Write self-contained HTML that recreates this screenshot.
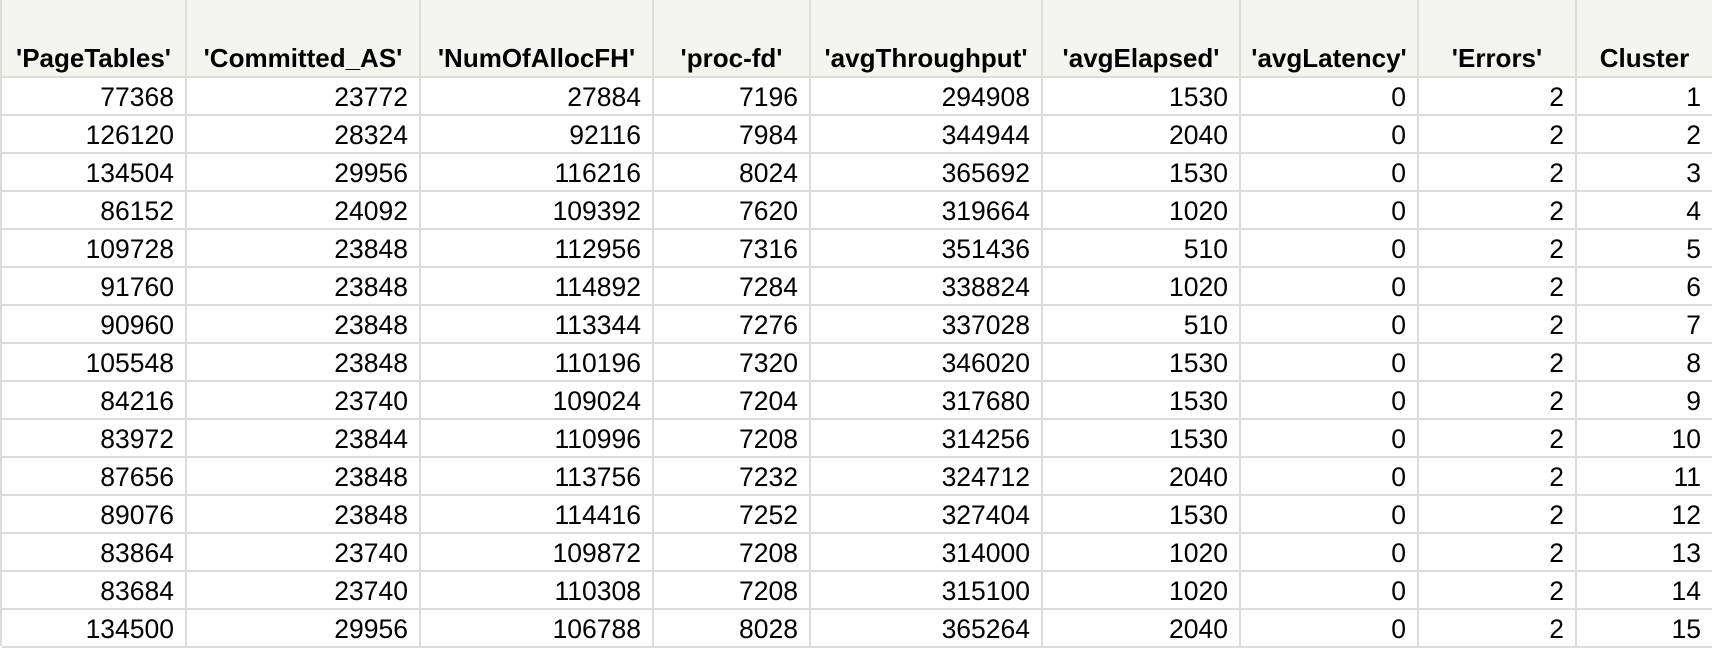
<!DOCTYPE html>
<html><head><meta charset="utf-8">
<style>
html,body{margin:0;padding:0;width:1712px;height:646px;overflow:hidden;background:#fff;font-family:"Liberation Sans",Arial,sans-serif;}
#grid{position:absolute;left:0;top:0;width:1712px;height:646px;}
.hdr{position:absolute;top:0;height:76px;background:#f5f5f0;border-right:2px solid #dcdcd8;box-sizing:border-box;font-weight:bold;font-size:26px;color:#000;text-align:center;line-height:28px;padding-top:44px;white-space:nowrap;}
.cell{position:absolute;height:38px;border-right:2px solid #dcdcdc;border-bottom:2px solid #dcdcdc;box-sizing:border-box;font-size:26.5px;color:#000;text-align:right;padding-right:11px;line-height:39px;white-space:nowrap;}
#hline{position:absolute;left:0;top:76px;width:1712px;height:2px;background:#dcdcdc;}
</style></head><body>
<div id="grid"></div>
<script>
const headers=["'PageTables'","'Committed_AS'","'NumOfAllocFH'","'proc-fd'","'avgThroughput'","'avgElapsed'","'avgLatency'","'Errors'","Cluster"];
const pageTables=[77368,126120,134504,86152,109728,91760,90960,105548,84216,83972,87656,89076,83864,83684,134500];
const committedAS=[23772,28324,29956,24092,23848,23848,23848,23848,23740,23844,23848,23848,23740,23740,29956];
const numAllocFH=[27884,92116,116216,109392,112956,114892,113344,110196,109024,110996,113756,114416,109872,110308,106788];
const procFd=[7196,7984,8024,7620,7316,7284,7276,7320,7204,7208,7232,7252,7208,7208,8028];
const avgThroughput=[294908,344944,365692,319664,351436,338824,337028,346020,317680,314256,324712,327404,314000,315100,365264];
const avgElapsed=[1530,2040,1530,1020,510,1020,510,1530,1530,1530,2040,1530,1020,1020,2040];
const avgLatency=[0,0,0,0,0,0,0,0,0,0,0,0,0,0,0];
const errors=[2,2,2,2,2,2,2,2,2,2,2,2,2,2,2];
const cluster=[1,2,3,4,5,6,7,8,9,10,11,12,13,14,15];
const cols=[pageTables,committedAS,numAllocFH,procFd,avgThroughput,avgElapsed,avgLatency,errors,cluster];
const edges=[2,187,421,654,811,1043,1241,1419,1577,1712];
const g=document.getElementById('grid');
const lb=document.createElement('div');


lb.style.cssText='position:absolute;left:0;top:0;width:2px;height:646px;background:#dcdcdc';
g.appendChild(lb);
headers.forEach((h,i)=>{
  const d=document.createElement('div');
  d.className='hdr';
  
  
  d.style.left=edges[i]+'px';
  d.style.width=(edges[i+1]-edges[i])+'px';
  if(i==headers.length-1)d.style.borderRight='none';
  d.textContent=h;
  g.appendChild(d);
});
const hl=document.createElement('div');
hl.id='hline';


g.appendChild(hl);
for(let r=0;r<cluster.length;r++){
  cols.forEach((c,i)=>{
    const d=document.createElement('div');
    d.className='cell';
    
    
    d.style.left=edges[i]+'px';
    d.style.top=(78+r*38)+'px';
    d.style.width=(edges[i+1]-edges[i])+'px';
    if(i==cols.length-1){d.style.borderRight='none';}
    d.textContent=c[r];
    g.appendChild(d);
  });
}
</script>
</body></html>
